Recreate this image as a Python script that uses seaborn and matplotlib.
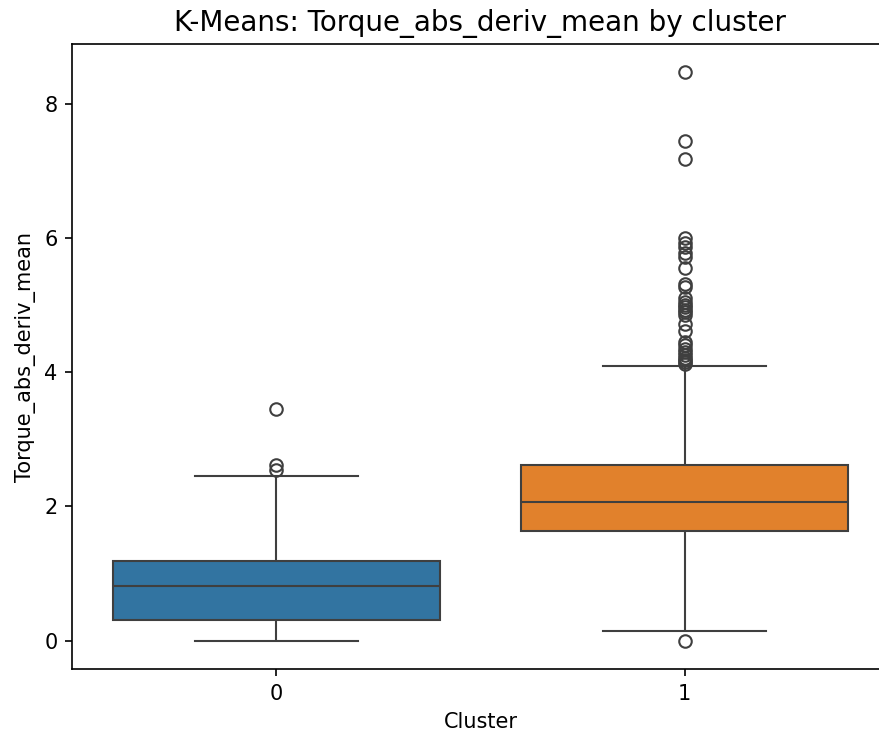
import numpy as np
import pandas as pd
import matplotlib
matplotlib.use("Agg")
import matplotlib.pyplot as plt
import seaborn as sns

# Per-cluster box summary of Torque_abs_deriv_mean
cluster_ids = [0, 1]
whisker_low = [0.0, 0.15]
q1 = [0.31, 1.63]
median = [0.81, 2.06]
q3 = [1.19, 2.62]
whisker_high = [2.46, 4.10]

# Points beyond 1.5*IQR
outliers_0 = [2.55, 2.62, 3.45]
outliers_1 = [0.0, 4.13, 4.15, 4.18, 4.22, 4.26, 4.30, 4.35, 4.40, 4.45,
              4.62, 4.72, 4.86, 4.90, 4.93, 4.97, 5.00, 5.05, 5.10, 5.27,
              5.32, 5.55, 5.72, 5.78, 5.87, 5.93, 6.00, 7.18, 7.45, 8.47]
outliers = [outliers_0, outliers_1]

# Long-form table whose quartiles and whisker ends reproduce the summary
rows = []
for i, c in enumerate(cluster_ids):
    vals = ([whisker_low[i], whisker_high[i]] + outliers[i]
            + [q1[i]] * 100 + [median[i]] * 100 + [q3[i]] * 100)
    rows.append(pd.DataFrame({"Cluster": c, "Torque_abs_deriv_mean": vals}))
df = pd.concat(rows, ignore_index=True)

DPI = 150
fig = plt.figure(figsize=(880 / DPI, 733 / DPI), dpi=DPI)
ax = fig.add_axes([72 / 880, 1 - 669 / 733, 817 / 880, 625 / 733])

sns.boxplot(data=df, x="Cluster", y="Torque_abs_deriv_mean", hue="Cluster",
            palette=["#1f77b4", "#ff7f0e"], legend=False, ax=ax)

ax.set_title("K-Means: Torque_abs_deriv_mean by cluster", fontsize=13.3)
ax.set_xlabel("Cluster")
ax.set_ylabel("Torque_abs_deriv_mean")

fig.savefig("out.png", dpi=DPI)
